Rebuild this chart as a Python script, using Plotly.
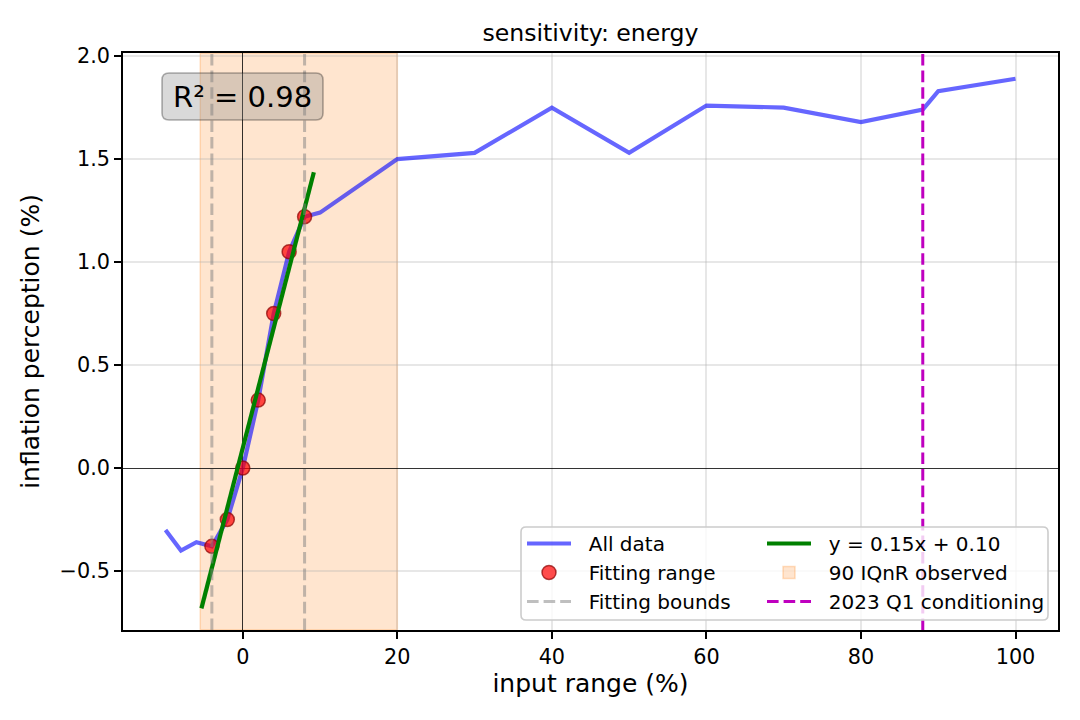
import numpy as np
import plotly.graph_objects as go

# ---------------- data ----------------
x_all = [-10, -8, -6, -4, -2, 0, 2, 4, 6, 8, 10, 20, 30, 40, 50, 60, 70, 80, 88, 90, 100]
y_all = [-0.30, -0.40, -0.36, -0.38, -0.25, 0.00, 0.33, 0.75, 1.05, 1.22, 1.24, 1.50,
         1.53, 1.75, 1.53, 1.76, 1.75, 1.68, 1.74, 1.83, 1.89]
fit_bounds = [-4, 8]
fit_line_extent = [-5.35, 9.2]
iqr_band = [-5.5, 20]
conditioning_x = 88
x_ticks = [0, 20, 40, 60, 80, 100]
y_ticks = [-0.5, 0.0, 0.5, 1.0, 1.5, 2.0]
y_ticktext = ["\u22120.5", "0.0", "0.5", "1.0", "1.5", "2.0"]
x_range = [-15.5, 105.5]
y_range = [-0.786, 2.015]
fit_label = "y = 0.15x + 0.10"
r2_label = "R\u00b2 = 0.98"
legend_names = ["All data", "Fitting range", "Fitting bounds",
                fit_label, "90 IQnR observed", "2023 Q1 conditioning"]

# fitting subset
xa = np.array(x_all, dtype=float)
ya = np.array(y_all, dtype=float)
mask = (xa >= fit_bounds[0]) & (xa <= fit_bounds[1])
x_fit, y_fit = xa[mask], ya[mask]
slope, intercept = np.polyfit(x_fit, y_fit, 1)
fx = np.array(fit_line_extent)
fy = slope * fx + intercept

PAD = "\u00a0\u00a0"
FONT = "DejaVu Sans"
fig = go.Figure()

fig.add_trace(go.Scatter(x=x_all, y=y_all, mode="lines", name=PAD + legend_names[0],
                         line=dict(color="rgba(0,0,255,0.6)", width=4.2),
                         legend="legend", legendrank=1))
fig.add_trace(go.Scatter(x=x_fit, y=y_fit, mode="markers", name=PAD + legend_names[1],
                         marker=dict(size=14, color="rgba(255,0,0,0.7)",
                                     line=dict(color="rgba(139,0,0,0.7)", width=1.5)),
                         legend="legend", legendrank=2))
fig.add_trace(go.Scatter(x=fx, y=fy, mode="lines", name=PAD + legend_names[3],
                         line=dict(color="#008000", width=4.2),
                         legend="legend2", legendrank=1))

# band and vertical lines as shapes
fig.add_shape(type="rect", xref="x", yref="paper", x0=iqr_band[0], x1=iqr_band[1], y0=0, y1=1,
              fillcolor="rgba(255,127,14,0.2)", line=dict(color="rgba(255,127,14,0.25)", width=1.5),
              layer="between", name=PAD + legend_names[4], showlegend=True, legend="legend2",
              legendrank=2)
for i, xb in enumerate(fit_bounds):
    fig.add_shape(type="line", xref="x", yref="paper", x0=xb, x1=xb, y0=0, y1=1,
                  line=dict(color="rgba(128,128,128,0.5)", width=3, dash="11.6px,5px"),
                  layer="above", name=PAD + legend_names[2], showlegend=(i == 0),
                  legend="legend", legendrank=3)
fig.add_shape(type="line", xref="x", yref="paper", x0=conditioning_x, x1=conditioning_x, y0=0, y1=1,
              line=dict(color="#bf00bf", width=3, dash="11.6px,5px"),
              layer="above", name=PAD + legend_names[5], showlegend=True,
              legend="legend2", legendrank=3)


def rrect(x0, x1, y0, y1, rx, ry):
    return (f"M{x0+rx},{y0} L{x1-rx},{y0} Q{x1},{y0} {x1},{y0+ry} L{x1},{y1-ry} "
            f"Q{x1},{y1} {x1-rx},{y1} L{x0+rx},{y1} Q{x0},{y1} {x0},{y1-ry} "
            f"L{x0},{y0+ry} Q{x0},{y0} {x0+rx},{y0} Z")


W, H = 1080, 720
ml, mr, mt, mb = 123, 22, 53, 90
pw, ph = W - ml - mr, H - mt - mb


def px2paper(px, py):
    return (px - ml) / pw, (H - mb - py) / ph


# R2 box
bx0, by1 = px2paper(162, 73)
bx1, by0 = px2paper(323, 120)
fig.add_shape(type="path", xref="paper", yref="paper",
              path=rrect(bx0, bx1, by0, by1, 7 / pw, 7 / ph),
              fillcolor="rgba(128,128,128,0.3)", line=dict(color="rgba(0,0,0,0.3)", width=1.6),
              layer="above")
cx, cy = px2paper(242.5, 97)
fig.add_annotation(x=cx, y=cy, xref="paper", yref="paper", text=r2_label, showarrow=False,
                   font=dict(family=FONT, size=29, color="black"), xanchor="center", yanchor="middle")

# legend box
lx0, ly1 = px2paper(521, 527)
lx1, ly0 = px2paper(1048, 620)
fig.add_shape(type="path", xref="paper", yref="paper",
              path=rrect(lx0, lx1, ly0, ly1, 5 / pw, 5 / ph),
              fillcolor="rgba(255,255,255,0.8)", line=dict(color="#cccccc", width=1.6),
              layer="above")

leg_common = dict(font=dict(family=FONT, size=20, color="black"), bgcolor="rgba(0,0,0,0)",
                  borderwidth=0, itemwidth=44, yanchor="top", xanchor="left",
                  traceorder="normal", orientation="v")
l1x, l1y = px2paper(522, 524)
l2x, _ = px2paper(762, 524)

axis_common = dict(showline=True, mirror=True, linecolor="black", linewidth=1.6,
                   ticks="outside", ticklen=7, tickwidth=1.6, tickcolor="black",
                   showgrid=True, gridcolor="rgba(176,176,176,0.3)", gridwidth=1.6,
                   zeroline=True, zerolinecolor="rgba(0,0,0,0.8)", zerolinewidth=1,
                   tickfont=dict(family=FONT, size=20.8, color="black"))

fig.update_layout(
    width=W, height=H,
    margin=dict(l=ml, r=mr, t=mt, b=mb),
    paper_bgcolor="white", plot_bgcolor="white",
    font=dict(family=FONT, color="black"),
    title=dict(text="sensitivity: energy", x=0.5, xref="paper", xanchor="center",
               y=1 - 33 / H, yref="container", yanchor="middle",
               font=dict(family=FONT, size=23.6, color="black")),
    xaxis=dict(range=x_range, tickvals=x_ticks, **axis_common,
               title=dict(text="input range (%)", standoff=7,
                          font=dict(family=FONT, size=25, color="black"))),
    yaxis=dict(range=y_range, tickvals=y_ticks, ticktext=y_ticktext, **axis_common,
               title=dict(text="inflation perception (%)", standoff=13,
                          font=dict(family=FONT, size=25, color="black"))),
    legend=dict(x=l1x, y=l1y, **leg_common),
    legend2=dict(x=l2x, y=l1y, **leg_common),
    showlegend=True,
)

fig.write_html("out.html", config={"displayModeBar": False},
               post_script="document.body.style.margin='0';")
